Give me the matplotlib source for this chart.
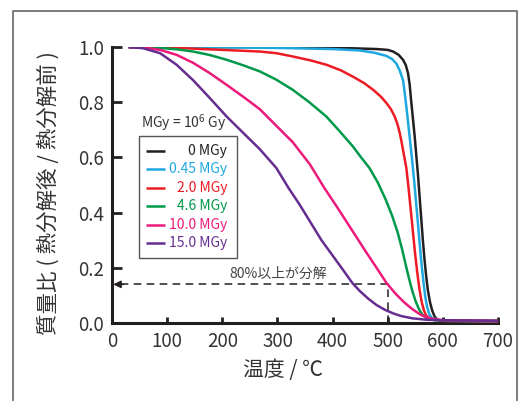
import matplotlib
matplotlib.use('Agg')
import matplotlib.pyplot as plt
from matplotlib.lines import Line2D
from matplotlib.patches import Rectangle

plt.rcParams['font.family'] = ['Noto Sans CJK JP', 'DejaVu Sans']
plt.rcParams['mathtext.fontset'] = 'custom'
plt.rcParams['mathtext.rm'] = 'Noto Sans CJK JP'

# 線量ごとの質量比 (温度 ℃, 質量比)
labels = ['0 MGy', '0.45 MGy', '2.0 MGy', '4.6 MGy', '10.0 MGy', '15.0 MGy']
colors = ['#231f20', '#1fa8e0', '#ed1c24', '#00994a', '#ec1a7b', '#662d91']

t_0 = [30, 100, 200, 300, 400, 480, 500, 510, 520, 528, 533, 537, 540, 543, 546,
       549, 552, 555, 558, 561, 564, 567, 570, 573, 577, 581, 585, 590, 600, 700]
m_0 = [1.0, 1.0, 1.0, 1.0, 0.998, 0.993, 0.99, 0.984, 0.972, 0.954, 0.935, 0.906,
       0.865, 0.80, 0.74, 0.68, 0.61, 0.54, 0.46, 0.38, 0.30, 0.23, 0.17, 0.12,
       0.075, 0.045, 0.025, 0.012, 0.006, 0.004]

t_045 = [30, 200, 300, 400, 449, 475, 498, 508, 516, 522, 528, 531, 534, 537,
         540, 544, 548, 552, 556, 559, 562, 565, 568, 571, 575, 580, 600, 700]
m_045 = [1.0, 0.999, 0.997, 0.993, 0.988, 0.98, 0.968, 0.957, 0.94, 0.915, 0.88,
         0.835, 0.785, 0.73, 0.675, 0.60, 0.52, 0.43, 0.34, 0.27, 0.205, 0.15,
         0.10, 0.065, 0.035, 0.018, 0.008, 0.005]

t_20 = [30, 117, 200, 268, 298, 328, 360, 389, 415, 437, 457, 474, 488, 498, 506,
        513, 518, 522, 525, 528, 531, 534, 538, 542, 546, 550, 554, 558, 562, 566,
        570, 578, 600, 700]
m_20 = [1.0, 0.997, 0.99, 0.984, 0.978, 0.966, 0.952, 0.936, 0.916, 0.893, 0.87,
        0.845, 0.82, 0.797, 0.775, 0.748, 0.72, 0.689, 0.66, 0.627, 0.595, 0.562,
        0.49, 0.41, 0.33, 0.25, 0.18, 0.12, 0.075, 0.045, 0.027, 0.014, 0.008, 0.006]

t_46 = [30, 60, 87, 117, 147, 178, 208, 238, 268, 298, 328, 358, 389, 413, 437,
        452, 467, 482, 496, 508, 518, 526, 533, 539, 545, 551, 557, 563, 570, 585, 700]
m_46 = [1.0, 1.0, 0.997, 0.992, 0.984, 0.971, 0.954, 0.934, 0.912, 0.882, 0.845,
        0.80, 0.748, 0.695, 0.64, 0.60, 0.562, 0.51, 0.45, 0.39, 0.33, 0.27, 0.21,
        0.16, 0.115, 0.078, 0.05, 0.03, 0.018, 0.01, 0.008]

t_100 = [30, 60, 87, 117, 147, 177, 208, 238, 268, 298, 328, 359, 385, 410, 431,
         460, 480, 498, 515, 530, 545, 560, 575, 600, 700]
m_100 = [1.0, 0.998, 0.99, 0.972, 0.943, 0.906, 0.863, 0.82, 0.775, 0.715, 0.655,
         0.575, 0.49, 0.415, 0.35, 0.26, 0.20, 0.145, 0.105, 0.075, 0.05, 0.03,
         0.018, 0.01, 0.008]

t_150 = [30, 56, 87, 117, 147, 177, 208, 238, 268, 298, 320, 340, 360, 380, 400,
         420, 436, 450, 465, 480, 495, 510, 525, 545, 570, 600, 700]
m_150 = [1.0, 0.996, 0.978, 0.936, 0.88, 0.816, 0.748, 0.689, 0.63, 0.562, 0.49,
         0.43, 0.365, 0.30, 0.245, 0.19, 0.145, 0.115, 0.088, 0.065, 0.048, 0.035,
         0.025, 0.017, 0.012, 0.01, 0.008]

series_t = [t_0, t_045, t_20, t_46, t_100, t_150]
series_m = [m_0, m_045, m_20, m_46, m_100, m_150]

# 80%以上が分解 の目安線
guide_t = 500
guide_m = 0.14

fig = plt.figure(figsize=(5.29, 4.01), dpi=100)
ax = fig.add_axes([0.212, 0.1945, 0.729, 0.688])

for t, m, c in zip(series_t, series_m, colors):
    ax.plot(t, m, color=c, lw=1.8, solid_capstyle='butt',
            solid_joinstyle='round', zorder=3)

# 目安線
ax.plot([guide_t, guide_t, 12], [0, guide_m, guide_m], color='#231f20',
        lw=1.1, ls=(0, (5, 3.5)), zorder=2)
ax.annotate('', xy=(2, guide_m), xytext=(20, guide_m),
            arrowprops=dict(arrowstyle='-|>', color='#231f20', lw=1.1,
                            mutation_scale=11, shrinkA=0, shrinkB=0))
ax.text(302, 0.178, '80%以上が分解', fontsize=10, color='#444444',
        ha='center', va='center')

ax.set_xlim(0, 700)
ax.set_ylim(0, 1.0)
ax.set_xticks(range(0, 701, 100))
ax.set_yticks([0.0, 0.2, 0.4, 0.6, 0.8, 1.0])
ax.set_yticklabels(['0.0', '0.2', '0.4', '0.6', '0.8', '1.0'])
for s in ['top', 'right']:
    ax.spines[s].set_visible(False)
for s in ['left', 'bottom']:
    ax.spines[s].set_linewidth(2.2)
    ax.spines[s].set_color('#231f20')
    ax.spines[s].set_capstyle('projecting')
ax.tick_params(axis='both', direction='in', width=2.0, colors='#231f20',
               labelsize=13.5, labelcolor='#333333')
ax.tick_params(axis='y', length=7, pad=6)
ax.tick_params(axis='x', length=4.5, pad=6)

ax.set_xlabel('温度 / ℃', fontsize=15, color='#333333')
ax.xaxis.label.set_va('center')
ax.xaxis.set_label_coords(0.443, -0.170)
ax.set_ylabel('質量比 ( 熱分解後 / 熱分解前 )', fontsize=15.5, color='#333333')
ax.yaxis.label.set_va('center')
ax.yaxis.set_label_coords(-0.166, 0.472)

# 凡例 (文字は右揃え)
ax.add_patch(Rectangle((0.070, 0.236), 0.254, 0.442, transform=ax.transAxes,
                       fill=False, edgecolor='#555555', lw=1.0, zorder=4))
ax.text(0.185, 0.728, r'MGy = $\mathdefault{10^{6}}$ Gy', transform=ax.transAxes,
        fontsize=10, color='#333333', ha='center', va='center')
for i, (lab, c) in enumerate(zip(labels, colors)):
    yy = 0.624 - i * 0.0668
    ax.plot([0.088, 0.137], [yy, yy], transform=ax.transAxes, color=c, lw=1.8,
            solid_capstyle='butt')
    ax.text(0.298, yy, lab, transform=ax.transAxes, fontsize=10, color=c,
            ha='right', va='center')

# 外枠
W, H = 529, 401
fig.add_artist(Line2D([13 / W, 13 / W, 517 / W, 517 / W],
                      [0, 1 - 11 / H, 1 - 11 / H, 0], color='#666666', lw=1.2))

fig.savefig('out.png', dpi=100)
